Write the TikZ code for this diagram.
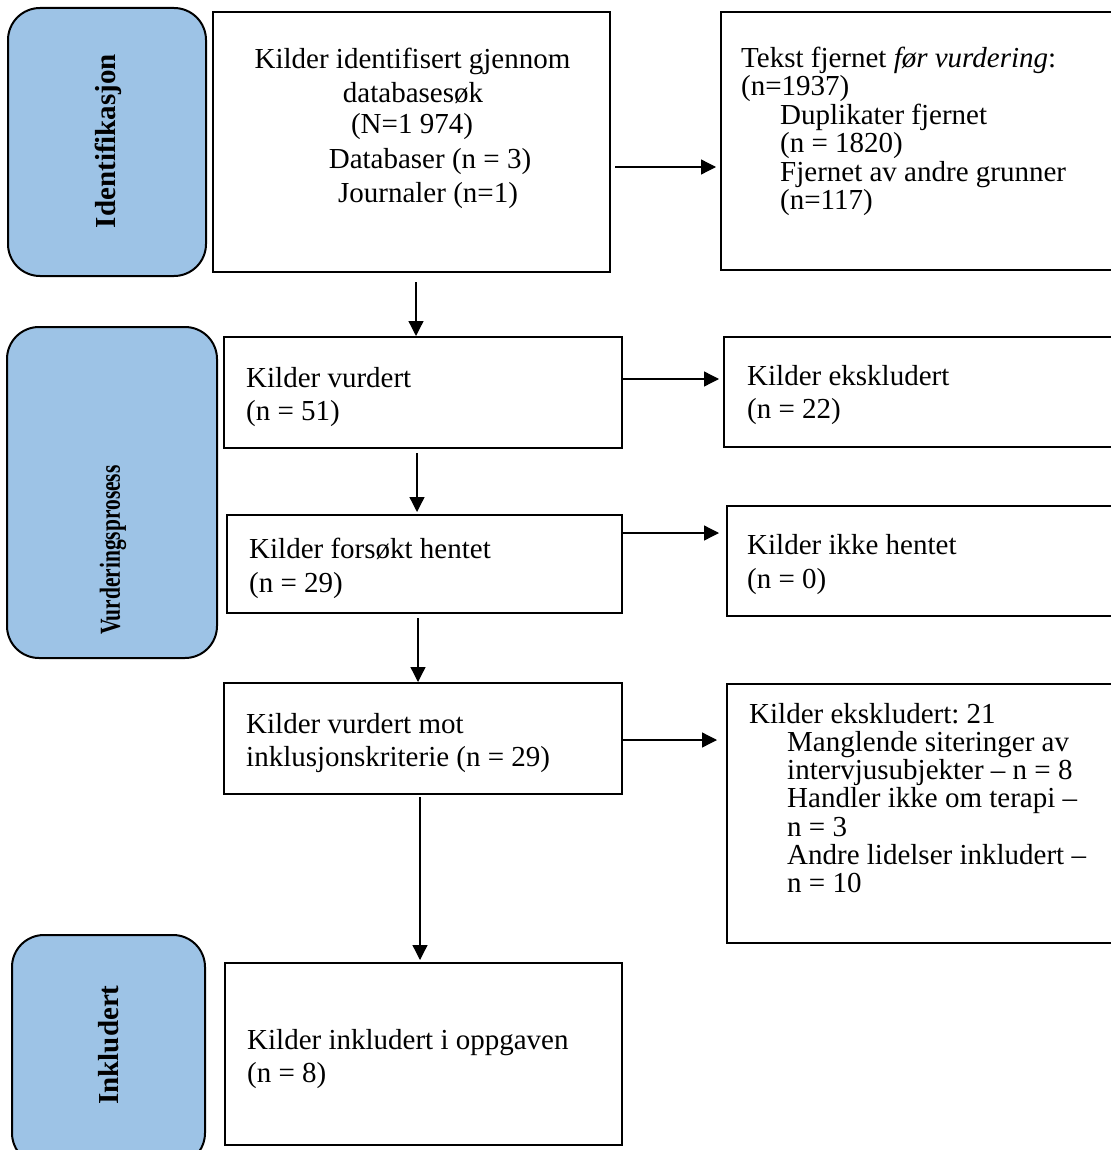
\documentclass[tikz,border=0pt]{standalone}
\usepackage{fontspec}
\usepackage{graphicx}
\setmainfont{Liberation Serif}
\usetikzlibrary{arrows.meta,calc}
\definecolor{sideblue}{RGB}{157,195,230}
\frenchspacing
\begin{document}
\begin{tikzpicture}[x=1pt,y=-1pt,
  sidebox/.style={draw=black,line width=2pt,fill=sideblue,rounded corners=32pt,inner sep=0pt},
  box/.style={draw=black,line width=2pt,rectangle,inner sep=0pt},
  txt/.style={anchor=base west,inner sep=0pt,font=\fontsize{29}{33}\selectfont},
  ctxt/.style={anchor=base,inner sep=0pt,font=\fontsize{29}{33}\selectfont},
  lab/.style={rotate=90,inner sep=0pt,font=\fontsize{29}{33}\selectfont\bfseries},
  arr/.style={line width=1.3pt,-{Triangle[length=15pt,width=15pt]}}]
\useasboundingbox[fill=white] (0,0) rectangle (1110,1150);

% side boxes
\node[sidebox,minimum width=198pt,minimum height=268pt] (S1) at (107,142) {};
\node[sidebox,minimum width=210pt,minimum height=331pt] (S2) at (112,492.5) {};
\node[sidebox,minimum width=193pt,minimum height=230pt] (S3) at (108.5,1050) {};
\node[lab] (L1) at (108,141) {Identifikasjon};
\node[lab] (L2) at (113,550) {\scalebox{0.74}[1]{Vurderingsprosess}};
\node[lab] (L3) at (109,1045) {Inkludert};

% main boxes
\node[box,minimum width=397pt,minimum height=260pt] (A) at (411.5,142) {};
\node[box,minimum width=394pt,minimum height=258pt] (B) at (918,141) {};
\node[box,minimum width=398pt,minimum height=111pt] (C) at (423,392.5) {};
\node[box,minimum width=391pt,minimum height=110pt] (D) at (919.5,392) {};
\node[box,minimum width=395pt,minimum height=98pt] (E) at (424.5,564) {};
\node[box,minimum width=388pt,minimum height=110pt] (F) at (921,561) {};
\node[box,minimum width=398pt,minimum height=111pt] (G) at (423,738.5) {};
\node[box,minimum width=388pt,minimum height=259pt] (H) at (921,813.5) {};
\node[box,minimum width=397pt,minimum height=182pt] (I) at (423.5,1054) {};

% texts
\node[ctxt] (a1) at (412.5,69) {Kilder identifisert gjennom};
\node[ctxt] (a2) at (413,102.5) {databasesøk};
\node[ctxt] (a3) at (412,134) {(N=1 974)};
\node[ctxt] (a4) at (430,169) {Databaser (n = 3)};
\node[ctxt] (a5) at (428,202.5) {Journaler (n=1)};

\node[txt] (b1) at (741,68) {Tekst fjernet \textit{før vurdering}:};
\node[txt] (b2) at (741,96) {(n=1937)};
\node[txt] (b3) at (780,125) {Duplikater fjernet};
\node[txt] (b4) at (780,153) {(n = 1820)};
\node[txt] (b5) at (780,182) {Fjernet av andre grunner};
\node[txt] (b6) at (780,210) {(n=117)};

\node[txt] (c1) at (246,387) {Kilder vurdert};
\node[txt] (c2) at (246,420) {(n = 51)};

\node[txt] (d1) at (747,385) {Kilder ekskludert};
\node[txt] (d2) at (747,418) {(n = 22)};

\node[txt] (e1) at (249,558) {Kilder forsøkt hentet};
\node[txt] (e2) at (249,592) {(n = 29)};

\node[txt] (f1) at (747,554) {Kilder ikke hentet};
\node[txt] (f2) at (747,588) {(n = 0)};

\node[txt] (g1) at (246,733) {Kilder vurdert mot};
\node[txt] (g2) at (246,766) {inklusjonskriterie (n = 29)};

\node[txt] (h1) at (749,723) {Kilder ekskludert: 21};
\node[txt] (h2) at (787,751) {Manglende siteringer av};
\node[txt] (h3) at (787,779) {intervjusubjekter – n = 8};
\node[txt] (h4) at (787,807) {Handler ikke om terapi –};
\node[txt] (h5) at (787,836) {n = 3};
\node[txt] (h6) at (787,864) {Andre lidelser inkludert –};
\node[txt] (h7) at (787,892) {n = 10};

\node[txt] (i1) at (247,1049) {Kilder inkludert i oppgaven};
\node[txt] (i2) at (247,1082) {(n = 8)};

% arrows
\draw[arr] ($(A.south)+(4.5,9)$) -- ($(C.north)+(-7,0)$);
\draw[arr] ($(A.east)+(4,25)$) -- ($(B.west)+(-4,26)$);
\draw[arr] ($(C.east)+(0,-13.5)$) -- ($(D.west)+(-4,-13)$);
\draw[arr] ($(C.south)+(-6,4)$) -- ($(E.north)+(-7.5,-2)$);
\draw[arr] ($(E.east)+(-2,-31)$) -- ($(F.west)+(-7,-28)$);
\draw[arr] ($(E.south)+(-6.5,4)$) -- ($(G.north)+(-5,0)$);
\draw[arr] ($(G.east)+(0,1.5)$) -- ($(H.west)+(-9,-73.5)$);
\draw[arr] ($(G.south)+(-3,2)$) -- ($(I.north)+(-3.5,-2)$);
\end{tikzpicture}
\end{document}
